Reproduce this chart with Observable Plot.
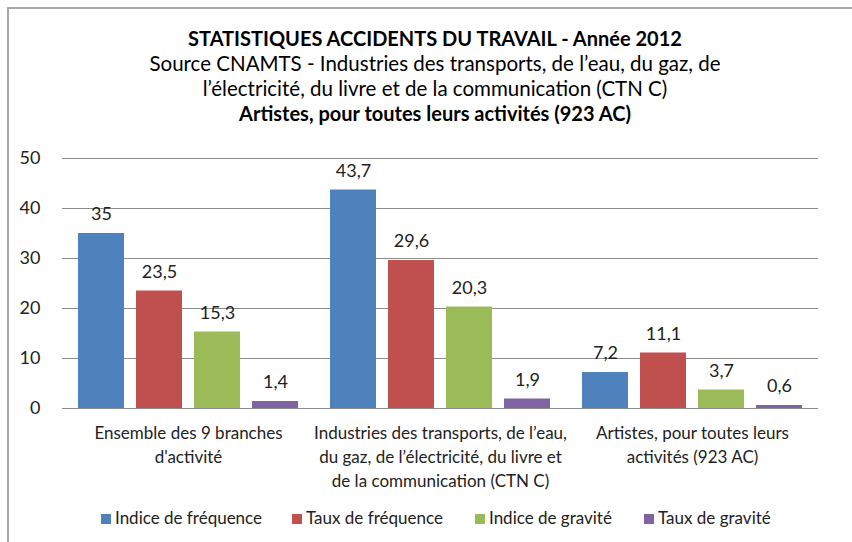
<!DOCTYPE html>
<html>
<head>
<meta charset="utf-8">
<script src="https://cdn.jsdelivr.net/npm/d3@7"></script>
<script src="https://cdn.jsdelivr.net/npm/@observablehq/plot@0.6"></script>
<style>
  html, body { margin: 0; padding: 0; background: #fff; }
  body { width: 852px; height: 542px; position: relative; overflow: hidden; font-family: Lato, "Open Sans", sans-serif; }
  #frame { position: absolute; left: 7px; top: 7px; width: 860px; height: 560px; border-left: 2px solid #a8a8a8; border-top: 2px solid #a8a8a8; }
  #title { position: absolute; left: 9px; top: 26px; width: 852px; text-align: center; color: #000; font-size: 20.5px; line-height: 25px; }
  #title .b { font-weight: bold; font-size: 20px; }
  #chart { position: absolute; left: 0; top: 140px; }
  #legend { position: absolute; left: 0; top: 507px; width: 852px; font-size: 17px; color: #222; }
  .item { position: absolute; top: 0; white-space: nowrap; }
  .sw { display: inline-block; width: 10px; height: 10px; margin-right: 4px; vertical-align: 0px; }
</style>
</head>
<body>
<div id="frame"></div>
<div id="title"></div>
<div id="chart"></div>
<div id="legend"></div>
<script>
// ---- data ----
const titleLines = [
  "STATISTIQUES ACCIDENTS DU TRAVAIL - Année 2012",
  "Source CNAMTS - Industries des transports, de l’eau, du gaz, de",
  "l’électricité, du livre et de la communication (CTN C)",
  "Artistes, pour toutes leurs activités (923 AC)"
];
const groups = [
  "Ensemble des 9 branches\nd'activité",
  "Industries des transports, de l’eau,\ndu gaz, de l’électricité, du livre et\nde la communication (CTN C)",
  "Artistes, pour toutes leurs\nactivités (923 AC)"
];
const series = ["Indice de fréquence", "Taux de fréquence", "Indice de gravité", "Taux de gravité"];
const colors = ["#4F81BD", "#C0504D", "#9BBB59", "#8064A2"];
const indiceFrequence = [35, 43.7, 7.2];
const tauxFrequence = [23.5, 29.6, 11.1];
const indiceGravite = [15.3, 20.3, 3.7];
const tauxGravite = [1.4, 1.9, 0.6];
const yTicks = [0, 10, 20, 30, 40, 50];

// ---- build table ----
const seriesValues = [indiceFrequence, tauxFrequence, indiceGravite, tauxGravite];
const data = [];
groups.forEach((g, gi) => {
  series.forEach((s, si) => {
    data.push({group: g, series: s, value: seriesValues[si][gi]});
  });
});
const fmt = v => String(v).replace(".", ",");

// ---- title ----
const t = document.getElementById("title");
titleLines.forEach((line, i) => {
  const d = document.createElement("div");
  d.textContent = line;
  if (i === 0 || i === 3) d.className = "b";
  t.appendChild(d);
});

// ---- chart ----
const fontFamily = "Lato, 'Open Sans', sans-serif";
const chart = Plot.plot({
  width: 852,
  height: 360,
  marginTop: 18,
  marginBottom: 92,
  marginLeft: 62,
  marginRight: 34,
  style: {fontFamily, fontSize: "17px", color: "#222", background: "transparent"},
  fx: {domain: groups, padding: 0},
  x: {domain: series, paddingInner: 0.21, paddingOuter: 0.25, axis: null},
  y: {domain: [0, 50], ticks: yTicks},
  color: {domain: series, range: colors},
  marks: [
    Plot.ruleY(yTicks, {stroke: "#8c8c8c", strokeWidth: 1, strokeOpacity: 1}),
    Plot.barY(data, {fx: "group", x: "series", y: "value", fill: "series"}),
    Plot.text(data, {fx: "group", x: "series", y: "value", text: d => fmt(d.value), dy: -19, fontSize: 18, fill: "#222"}),
    Plot.axisY(yTicks, {tickSize: 0, tickPadding: 22, fontSize: 18, fill: "#222", label: null}),
    Plot.axisFx({anchor: "bottom", tickSize: 0, tickPadding: 14, fontSize: 17, lineHeight: 1.4, fill: "#222", label: null})
  ]
});
document.getElementById("chart").appendChild(chart);

// ---- legend ----
const legend = document.getElementById("legend");
const legendX = [101, 292, 475, 644];
series.forEach((s, i) => {
  const it = document.createElement("div");
  it.className = "item";
  it.style.left = legendX[i] + "px";
  const sw = document.createElement("span");
  sw.className = "sw";
  sw.style.background = colors[i];
  it.appendChild(sw);
  it.appendChild(document.createTextNode(s));
  legend.appendChild(it);
});
</script>
</body>
</html>
